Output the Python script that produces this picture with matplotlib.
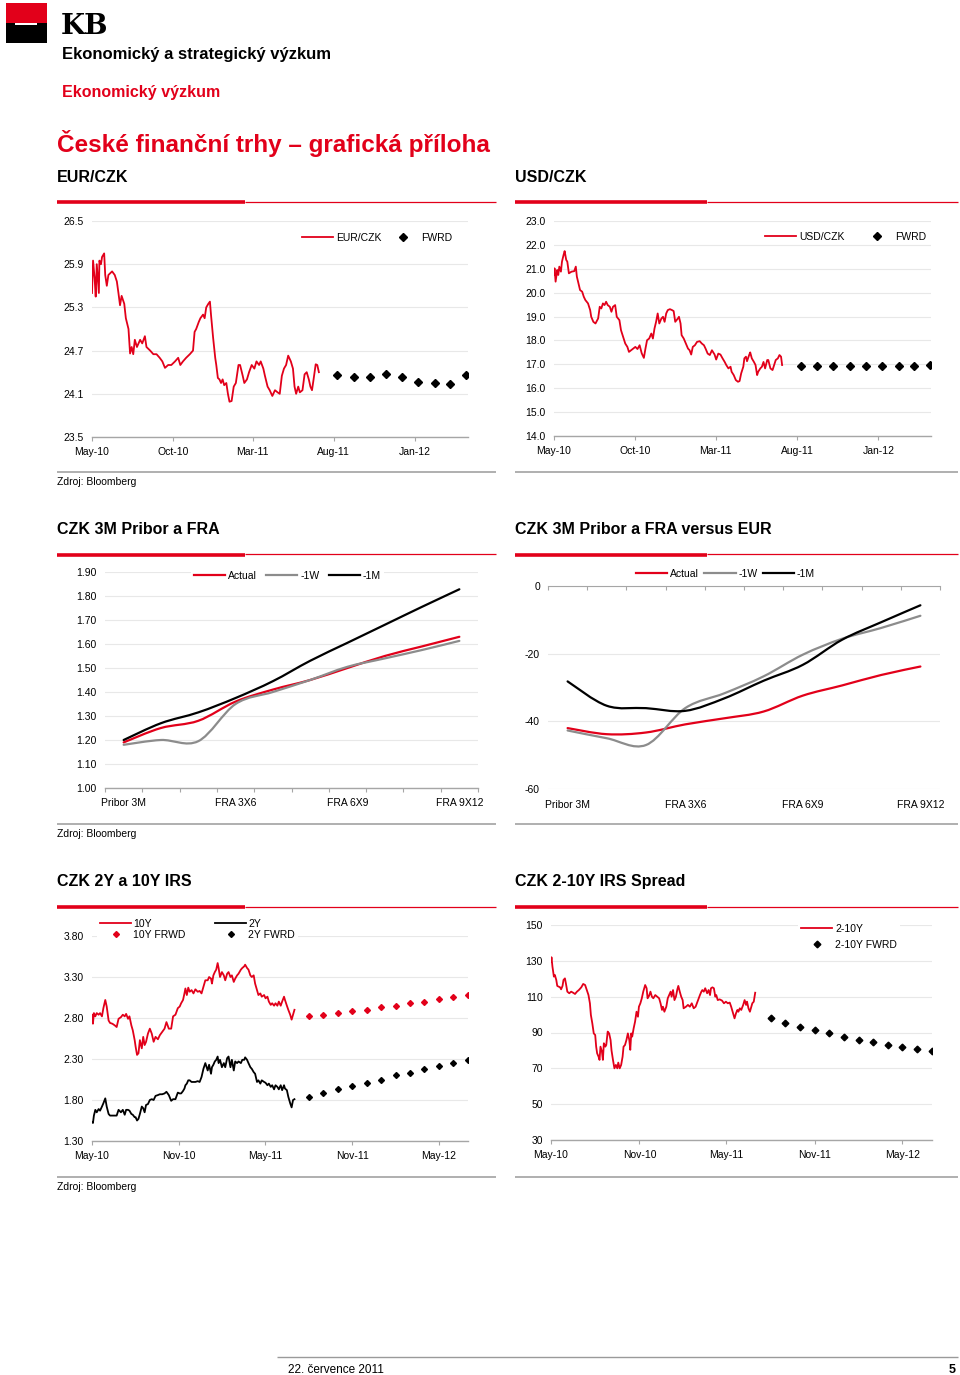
import numpy as np
import matplotlib
matplotlib.use("Agg")
import matplotlib.pyplot as plt
import matplotlib.dates as mdates
from matplotlib.path import Path
from matplotlib.patches import PathPatch, Rectangle
from matplotlib.lines import Line2D

plt.rcParams["font.family"] = ["Liberation Sans", "DejaVu Sans"]
plt.rcParams["axes.unicode_minus"] = False

RED = "#e2001a"
GREY = "#8c8c8c"
AXIS = "#a6a6a6"
GRID = "#e8e8e8"
W, H = 960, 1375
BASE = np.datetime64("2010-05-01")

# ---- EUR/CZK (days since 1 May 2010) ----
eur_day = [0, 2, 5, 7, 9, 13, 14, 17, 19, 23, 25, 28, 31, 38, 43, 47, 50, 53, 56, 61, 64, 69, 72, 75, 78,
           81, 85, 91, 95, 100, 103, 110, 116, 122, 128, 133, 138, 144, 150, 157, 163, 167, 172, 178, 185,
           191, 194, 197, 202, 205, 210, 213, 216, 220, 223, 225, 229, 233, 235, 238, 241, 244, 247, 250,
           254, 257, 260, 264, 268, 272, 277, 280, 285, 288, 293, 297, 302, 307, 311, 316, 319, 324, 327,
           332, 336, 341, 346, 351, 355, 359, 363, 367, 371, 376, 380, 383, 386, 390, 393, 398, 402, 406,
           410, 413, 416, 419, 423, 426, 429]
eur_val = [25.50, 25.95, 25.70, 25.45, 25.90, 25.50, 25.95, 25.90, 26.00, 26.05, 25.75, 25.60, 25.75, 25.80,
           25.75, 25.66, 25.50, 25.33, 25.46, 25.35, 25.15, 25.00, 24.66, 24.75, 24.65, 24.85, 24.75, 24.85,
           24.80, 24.90, 24.75, 24.70, 24.65, 24.65, 24.60, 24.55, 24.46, 24.50, 24.50, 24.55, 24.60, 24.50,
           24.55, 24.60, 24.65, 24.70, 24.96, 25.00, 25.10, 25.15, 25.20, 25.15, 25.30, 25.35, 25.38, 25.20,
           24.88, 24.60, 24.50, 24.32, 24.30, 24.25, 24.30, 24.22, 24.25, 24.10, 23.99, 24.00, 24.20, 24.25,
           24.50, 24.50, 24.35, 24.25, 24.30, 24.40, 24.50, 24.45, 24.55, 24.50, 24.55, 24.45, 24.35, 24.20,
           24.15, 24.07, 24.15, 24.12, 24.10, 24.35, 24.45, 24.50, 24.63, 24.55, 24.45, 24.20, 24.10, 24.20,
           24.12, 24.15, 24.37, 24.40, 24.30, 24.20, 24.15, 24.30, 24.51, 24.50, 24.40]
fx_fwd_dates = ["2011-08-08", "2011-09-08", "2011-10-08", "2011-11-08", "2011-12-08",
                "2012-01-08", "2012-02-08", "2012-03-08", "2012-04-08"]
eur_fwd = [24.36, 24.34, 24.33, 24.37, 24.33, 24.27, 24.25, 24.24, 24.36]

# ---- USD/CZK ----
usd_day = [0, 1, 3, 6, 8, 10, 13, 15, 18, 20, 23, 25, 28, 33, 38, 41, 43, 46, 49, 53, 56, 59, 64, 68, 70,
           74, 78, 83, 86, 89, 92, 95, 98, 101, 105, 108, 111, 115, 118, 123, 126, 130, 134, 138, 141, 145,
           149, 153, 157, 161, 165, 169, 172, 175, 179, 183, 186, 189, 192, 195, 198, 202, 205, 208, 211,
           214, 218, 222, 225, 228, 233, 235, 238, 240, 244, 248, 252, 255, 258, 261, 265, 269, 274, 278,
           282, 285, 289, 293, 297, 299, 302, 305, 309, 313, 317, 321, 324, 328, 332, 334, 338, 342, 346,
           349, 352, 356, 358, 361, 363, 367, 369, 372, 376, 379, 382, 384, 388, 391, 394, 397, 401, 403,
           407, 411, 413, 417, 421, 424, 427, 429]
usd_val = [20.74, 21.02, 20.46, 20.95, 20.74, 21.09, 20.88, 21.30, 21.58, 21.74, 21.37, 21.30, 20.81, 20.88,
           20.90, 21.09, 20.67, 20.39, 20.11, 20.04, 19.83, 19.69, 19.55, 19.27, 18.99, 18.78, 18.71, 18.92,
           19.41, 19.34, 19.55, 19.48, 19.62, 19.48, 19.41, 19.20, 19.41, 19.48, 18.99, 18.85, 18.43, 18.15,
           17.87, 17.73, 17.52, 17.59, 17.66, 17.73, 17.64, 17.80, 17.46, 17.27, 17.66, 18.01, 18.08, 18.29,
           18.08, 18.50, 18.78, 19.13, 18.71, 18.92, 18.99, 18.78, 19.13, 19.27, 19.31, 19.27, 19.23, 18.78,
           18.92, 18.99, 18.71, 18.22, 18.08, 17.87, 17.66, 17.59, 17.41, 17.73, 17.80, 17.94, 17.97, 17.87,
           17.80, 17.66, 17.45, 17.39, 17.59, 17.52, 17.41, 17.20, 17.45, 17.41, 17.25, 17.10, 16.97, 16.83,
           16.90, 16.69, 16.55, 16.34, 16.27, 16.30, 16.62, 16.90, 17.25, 17.32, 17.13, 17.39, 17.50, 17.25,
           17.10, 16.97, 16.55, 16.69, 16.83, 16.90, 17.10, 16.83, 17.18, 17.18, 16.83, 16.76, 16.90, 17.18,
           17.25, 17.39, 17.32, 16.97]
usd_fwd = [16.92, 16.92, 16.92, 16.92, 16.92, 16.93, 16.92, 16.92, 16.96]

# ---- Pribor / FRA curves ----
fra_cats = ["Pribor 3M", "FRA 1X4", "FRA 2X5", "FRA 3X6", "FRA 4X7",
            "FRA 5X8", "FRA 6X9", "FRA 7X10", "FRA 8X11", "FRA 9X12"]
czk_actual = [1.19, 1.25, 1.28, 1.36, 1.41, 1.45, 1.50, 1.55, 1.59, 1.63]
czk_1w = [1.18, 1.20, 1.195, 1.35, 1.40, 1.45, 1.505, 1.54, 1.575, 1.613]
czk_1m = [1.20, 1.27, 1.315, 1.375, 1.445, 1.53, 1.605, 1.68, 1.755, 1.828]
vs_actual = [-42.0, -43.8, -43.3, -40.9, -39.1, -37.1, -32.4, -29.4, -26.3, -23.8]
vs_1w = [-42.7, -45.0, -47.0, -36.1, -31.7, -26.7, -20.3, -15.6, -12.4, -8.8]
vs_1m = [-28.2, -35.4, -36.1, -36.9, -33.2, -28.0, -23.3, -15.9, -10.7, -5.7]

# ---- IRS 10Y / 2Y ----
irs_day = [0, 2, 4, 7, 10, 14, 17, 21, 24, 28, 31, 35, 38, 43, 48, 52, 56, 61, 65, 69, 72, 76, 79, 83, 86,
           90, 92, 95, 98, 101, 105, 108, 111, 114, 118, 122, 126, 130, 134, 139, 143, 148, 153, 157, 162,
           167, 171, 176, 181, 185, 188, 192, 195, 197, 200, 203, 206, 210, 214, 218, 223, 227, 231, 235,
           239, 244, 247, 251, 253, 256, 259, 262, 265, 267, 270, 274, 278, 281, 285, 288, 292, 295, 299,
           302, 306, 309, 314, 317, 321, 323, 327, 330, 334, 337, 341, 344, 348, 351, 355, 358, 363, 366,
           370, 373, 377, 380, 384, 387, 391, 394, 398, 401, 405, 407, 411, 414, 418, 421, 424, 427]
irs_10y = [2.84, 2.73, 2.86, 2.82, 2.86, 2.84, 2.86, 2.82, 2.92, 3.02, 2.94, 2.77, 2.74, 2.73, 2.71,
           2.69, 2.79, 2.81, 2.84, 2.82, 2.85, 2.79, 2.82, 2.71, 2.65, 2.53, 2.45, 2.35, 2.37, 2.53,
           2.43, 2.57, 2.47, 2.51, 2.61, 2.67, 2.61, 2.51, 2.57, 2.54, 2.59, 2.63, 2.67, 2.75, 2.67,
           2.67, 2.82, 2.84, 2.92, 2.94, 2.98, 3.02, 3.10, 3.16, 3.08, 3.17, 3.12, 3.14, 3.10, 3.15,
           3.12, 3.13, 3.10, 3.18, 3.26, 3.26, 3.30, 3.28, 3.22, 3.32, 3.36, 3.39, 3.47, 3.41, 3.30,
           3.36, 3.32, 3.26, 3.34, 3.36, 3.30, 3.32, 3.24, 3.28, 3.32, 3.34, 3.39, 3.41, 3.43, 3.45,
           3.41, 3.39, 3.32, 3.30, 3.32, 3.22, 3.14, 3.08, 3.10, 3.06, 3.08, 3.04, 3.06, 3.00, 2.96,
           2.98, 2.95, 2.98, 2.95, 3.00, 2.95, 3.00, 3.06, 3.02, 2.95, 2.90, 2.84, 2.78, 2.84, 2.90]
irs_2y = [1.53, 1.52, 1.61, 1.68, 1.65, 1.69, 1.67, 1.72, 1.76, 1.82, 1.72, 1.63, 1.61,
          1.61, 1.61, 1.61, 1.68, 1.65, 1.68, 1.62, 1.68, 1.68, 1.67, 1.63, 1.62, 1.59, 1.59, 1.55,
          1.57, 1.63, 1.72, 1.70, 1.65, 1.74, 1.75, 1.80, 1.81, 1.80, 1.85, 1.86, 1.87, 1.87, 1.88,
          1.90, 1.86, 1.79, 1.81, 1.81, 1.89, 1.88, 1.88, 1.91, 1.94, 1.98, 2.00, 2.04, 2.04, 2.02,
          2.02, 2.02, 2.03, 2.02, 2.08, 2.18, 2.25, 2.16, 2.23, 2.12, 2.20, 2.23, 2.27, 2.29, 2.33,
          2.25, 2.29, 2.20, 2.25, 2.20, 2.31, 2.33, 2.20, 2.29, 2.16, 2.27, 2.25, 2.27, 2.25, 2.29,
          2.29, 2.32, 2.29, 2.25, 2.20, 2.18, 2.14, 2.12, 2.02, 2.04, 2.00, 2.04, 2.02, 2.01, 1.98,
          2.00, 1.96, 1.98, 1.93, 1.98, 1.96, 1.93, 1.98, 1.92, 1.98, 1.94, 1.92, 1.84, 1.76, 1.71,
          1.80, 1.81]
irs_fwd_dates = ["2011-08-01", "2011-09-01", "2011-10-01", "2011-11-01", "2011-12-01", "2012-01-01",
                 "2012-02-01", "2012-03-01", "2012-04-01", "2012-05-01", "2012-06-01", "2012-07-01"]
irs_10y_fwd = [2.82, 2.835, 2.855, 2.88, 2.90, 2.93, 2.95, 2.98, 3.00, 3.03, 3.055, 3.08]
irs_2y_fwd = [1.84, 1.89, 1.93, 1.97, 2.01, 2.05, 2.10, 2.135, 2.175, 2.215, 2.25, 2.285]

# ---- 2-10Y spread ----
spr_day = [0, 1, 3, 6, 8, 11, 13, 16, 19, 21, 24, 26, 29, 31, 34, 38, 42, 46, 50, 54, 58, 63, 67, 71, 74,
           78, 81, 83, 86, 89, 92, 94, 96, 99, 101, 103, 106, 108, 110, 113, 115, 118, 121, 124, 126,
           129, 132, 135, 138, 140, 143, 146, 149, 151, 154, 157, 160, 163, 165, 167, 169, 172, 175, 178,
           181, 183, 186, 189, 192, 196, 199, 201, 204, 207, 210, 213, 217, 221, 225, 228, 231, 233, 236,
           240, 243, 246, 249, 251, 254, 257, 260, 263, 265, 268, 271, 274, 276, 281, 285, 289, 293, 297,
           301, 306, 310, 313, 315, 318, 321, 325, 328, 331, 333, 336, 339, 342, 344, 347, 351, 356, 360,
           364, 368, 372, 375, 379, 382, 385, 388, 390, 393, 396, 400, 403, 406, 408, 411, 414, 417, 419,
           422, 425]
spr_val = [129.5, 132.0, 126.8, 121.2, 122.1, 119.3, 116.0, 115.6, 115.2, 114.1, 116.0, 119.3, 120.2, 117.4,
           112.8, 111.9, 112.8, 112.2, 111.5, 112.8, 113.7, 115.2, 117.1, 116.5, 114.1, 110.9, 106.3, 99.8,
           95.1, 89.5, 88.6, 82.1, 78.4, 76.5, 74.7, 82.1, 79.3, 74.7, 84.0, 82.1, 83.0, 90.5, 89.5, 85.8,
           79.9, 74.7, 70.0, 71.9, 70.0, 73.2, 70.0, 71.9, 76.5, 82.1, 83.0, 85.8, 89.5, 85.8, 80.3, 89.5,
           87.7, 92.3, 96.1, 101.6, 98.8, 104.4, 106.3, 109.1, 112.8, 116.5, 114.7, 109.1, 110.4, 112.8,
           110.0, 109.1, 110.9, 110.0, 109.1, 106.3, 102.6, 104.4, 101.6, 104.4, 109.1, 110.9, 112.8, 110.0,
           113.7, 108.1, 110.0, 114.1, 116.0, 112.8, 110.0, 108.1, 103.5, 104.4, 105.4, 104.4, 106.3, 103.5,
           104.4, 108.1, 110.9, 112.8, 113.7, 112.8, 114.7, 111.9, 113.7, 110.9, 114.7, 115.2, 114.7, 110.0,
           110.9, 108.1, 108.5, 107.8, 106.3, 107.2, 106.3, 106.7, 104.4, 100.7, 97.9, 100.7, 102.6, 101.6,
           103.5, 102.6, 105.4, 108.1, 105.4, 107.2, 103.5, 101.6, 104.4, 106.3, 107.2, 112.2]
spr_fwd = [98.3, 95.3, 93.3, 91.4, 89.5, 87.5, 85.8, 84.5, 83.0, 81.9, 80.8, 79.7]


def days(d):
    return BASE + np.array(d).astype("timedelta64[D]")


def add_ax(fig, x0, y0, x1, y1):
    return fig.add_axes([x0 / W, 1 - y1 / H, (x1 - x0) / W, (y1 - y0) / H])


def ftext(fig, x, y, s, **kw):
    fig.text(x / W, 1 - y / H, s, **kw)


def hline(fig, x0, x1, y, color, lw):
    fig.add_artist(Line2D([x0 / W, x1 / W], [1 - y / H, 1 - y / H], color=color, lw=lw,
                          transform=fig.transFigure, solid_capstyle="butt"))


def style(ax):
    for s in ["top", "left", "right"]:
        ax.spines[s].set_visible(False)
    ax.spines["bottom"].set_color(AXIS)
    ax.spines["bottom"].set_linewidth(1.0)
    ax.yaxis.grid(True, color=GRID, lw=0.8)
    ax.set_axisbelow(True)
    ax.tick_params(axis="y", length=0, pad=5.8, labelsize=7.5)
    ax.tick_params(axis="x", labelsize=7.5, color=AXIS)


def date_axis(ax, ticks, fmt, right):
    ax.set_xlim(BASE, np.datetime64(right))
    ax.set_xticks([np.datetime64(t) for t in ticks])
    ax.xaxis.set_major_formatter(mdates.DateFormatter(fmt))
    ax.tick_params(axis="x", direction="out", length=3, width=0.8, pad=4)


def smooth(ax, y, color, lw=1.6):
    x = np.arange(len(y), dtype=float)
    y = np.asarray(y, dtype=float)
    n = len(y)
    verts = [(x[0], y[0])]
    codes = [Path.MOVETO]
    for i in range(n - 1):
        a = max(i - 1, 0)
        b = min(i + 2, n - 1)
        c1 = (x[i] + (x[i + 1] - x[a]) / 6, y[i] + (y[i + 1] - y[a]) / 6)
        c2 = (x[i + 1] - (x[b] - x[i]) / 6, y[i + 1] - (y[b] - y[i]) / 6)
        verts += [c1, c2, (x[i + 1], y[i + 1])]
        codes += [Path.CURVE4] * 3
    ax.add_patch(PathPatch(Path(verts, codes), fill=False, edgecolor=color, lw=lw,
                           capstyle="round", joinstyle="round"))


def cat_axis(ax, top=False):
    n = len(fra_cats)
    ax.set_xlim(-0.5, n - 0.5)
    ax.set_xticks(np.arange(-0.5, n, 1.0))
    ax.set_xticklabels([])
    ax.set_xticks([0, 3, 6, 9], minor=True)
    ax.set_xticklabels([fra_cats[i] for i in [0, 3, 6, 9]], minor=True)
    ax.tick_params(axis="x", which="minor", length=0, labelsize=7.5)
    if top:
        ax.spines["bottom"].set_visible(False)
        ax.spines["top"].set_visible(True)
        ax.spines["top"].set_color(AXIS)
        ax.tick_params(axis="x", which="major", bottom=False, top=True, direction="in",
                       length=3, width=0.8, color=AXIS)
        ax.tick_params(axis="x", which="minor", pad=8)
    else:
        ax.tick_params(axis="x", which="major", direction="out", length=3, width=0.8, color=AXIS)
        ax.tick_params(axis="x", which="minor", pad=7)


def legend(ax, fig, handles, labels, x, y, ncol, frame=False, **kw):
    opts = dict(loc="center left", bbox_to_anchor=(x / W, 1 - y / H), bbox_transform=fig.transFigure,
                ncol=ncol, fontsize=7.5, handlelength=3.0, handletextpad=0.25, columnspacing=0.8,
                borderpad=0.3 if frame else 0, borderaxespad=0, frameon=frame, fancybox=False)
    opts.update(kw)
    lg = ax.legend(handles, labels, **opts)
    if frame:
        lg.get_frame().set_facecolor("white")
        lg.get_frame().set_edgecolor("none")
        lg.get_frame().set_alpha(1)
    return lg


fig = plt.figure(figsize=(W / 100, H / 100), dpi=100)

# ---- header ----
fig.add_artist(Rectangle((6 / W, 1 - 23 / H), 41 / W, 20 / H, color=RED, transform=fig.transFigure, lw=0))
fig.add_artist(Rectangle((6 / W, 1 - 43 / H), 41 / W, 20 / H, color="black", transform=fig.transFigure, lw=0))
fig.add_artist(Rectangle((15 / W, 1 - 25 / H), 22 / W, 2 / H, color="white", transform=fig.transFigure, lw=0))
ftext(fig, 61, 34, "KB", fontsize=20, fontweight="bold", family="DejaVu Serif", va="baseline")
ftext(fig, 62, 59, "Ekonomický a strategický výzkum", fontsize=12, fontweight="bold", va="baseline")
ftext(fig, 62, 97, "Ekonomický výzkum", fontsize=11.5, fontweight="bold", color=RED, va="baseline")
ftext(fig, 57, 152, "České finanční trhy – grafická příloha", fontsize=17.5, fontweight="bold",
      color=RED, va="baseline")

# ---- section frames ----
sections = [(182, 202, 472, 485, ["EUR/CZK", "USD/CZK"]),
            (534, 555, 824, 837, ["CZK 3M Pribor a FRA", "CZK 3M Pribor a FRA versus EUR"]),
            (886, 907, 1177, 1190, ["CZK 2Y a 10Y IRS", "CZK 2-10Y IRS Spread"])]
for ty, by, gy, zy, titles in sections:
    for (x0, xm, x1), t in zip([(57, 245, 496), (515, 707, 958)], titles):
        ftext(fig, x0, ty, t, fontsize=11.5, fontweight="bold", va="baseline")
        hline(fig, x0, xm, by, RED, 2.6)
        hline(fig, xm, x1, by - 0.5, RED, 0.9)
        hline(fig, x0, x1, gy, "#9a9a9a", 1.1)
    ftext(fig, 57, zy, "Zdroj: Bloomberg", fontsize=7.5, va="baseline")

# ---- EUR/CZK ----
ax = add_ax(fig, 92, 221, 468, 437)
style(ax)
ax.plot(days(eur_day), eur_val, color=RED, lw=1.3)
ax.plot(np.array(fx_fwd_dates, dtype="datetime64[D]"), eur_fwd, ls="none", marker="D", ms=4, color="black")
ax.set_ylim(23.5, 26.5)
ax.set_yticks(np.round(np.arange(23.5, 26.51, 0.6), 1))
ax.yaxis.set_major_formatter(matplotlib.ticker.FormatStrFormatter("%.1f"))
date_axis(ax, ["2010-05-01", "2010-10-01", "2011-03-01", "2011-08-01", "2012-01-01"], "%b-%y", "2012-04-11")
legend(ax, fig, [Line2D([], [], color=RED, lw=1.3), Line2D([], [], ls="none", marker="D", ms=4, color="black")],
       ["EUR/CZK", "FWRD"], 302, 238, 2, columnspacing=0.6)

# ---- USD/CZK ----
ax = add_ax(fig, 554, 221, 931, 436)
style(ax)
ax.plot(days(usd_day), usd_val, color=RED, lw=1.3)
ax.plot(np.array(fx_fwd_dates, dtype="datetime64[D]"), usd_fwd, ls="none", marker="D", ms=4, color="black")
ax.set_ylim(14, 23)
ax.set_yticks(np.arange(14, 23.1, 1))
ax.yaxis.set_major_formatter(matplotlib.ticker.FormatStrFormatter("%.1f"))
date_axis(ax, ["2010-05-01", "2010-10-01", "2011-03-01", "2011-08-01", "2012-01-01"], "%b-%y", "2012-04-09")
legend(ax, fig, [Line2D([], [], color=RED, lw=1.3), Line2D([], [], ls="none", marker="D", ms=4, color="black")],
       ["USD/CZK", "FWRD"], 765, 237, 2, columnspacing=1.6)

# ---- CZK 3M Pribor a FRA ----
ax = add_ax(fig, 105, 572, 478, 788)
style(ax)
smooth(ax, czk_actual, RED)
smooth(ax, czk_1w, GREY)
smooth(ax, czk_1m, "black")
ax.set_ylim(1.0, 1.9)
ax.set_yticks(np.round(np.arange(1.0, 1.91, 0.1), 2))
ax.yaxis.set_major_formatter(matplotlib.ticker.FormatStrFormatter("%.2f"))
cat_axis(ax)
legend(ax, fig, [Line2D([], [], color=c, lw=1.6) for c in (RED, GREY, "black")],
       ["Actual", "-1W", "-1M"], 191, 576, 3, frame=True, columnspacing=0.9)

# ---- CZK 3M Pribor a FRA versus EUR ----
ax = add_ax(fig, 548, 586, 940, 789)
style(ax)
smooth(ax, vs_actual, RED)
smooth(ax, vs_1w, GREY)
smooth(ax, vs_1m, "black")
ax.set_ylim(-60, 0)
ax.set_yticks([-60, -40, -20, 0])
cat_axis(ax, top=True)
legend(ax, fig, [Line2D([], [], color=c, lw=1.6) for c in (RED, GREY, "black")],
       ["Actual", "-1W", "-1M"], 636, 574, 3, columnspacing=0.55)

# ---- CZK 2Y a 10Y IRS ----
ax = add_ax(fig, 92, 936, 468, 1141)
style(ax)
ax.plot(days(irs_day), irs_10y, color=RED, lw=1.3)
ax.plot(days(irs_day), irs_2y, color="black", lw=1.3)
fwd_x = np.array(irs_fwd_dates, dtype="datetime64[D]")
ax.plot(fwd_x, irs_10y_fwd, ls="none", marker="D", ms=3.0, color=RED)
ax.plot(fwd_x, irs_2y_fwd, ls="none", marker="D", ms=3.0, color="black")
ax.set_ylim(1.3, 3.8)
ax.set_yticks(np.round(np.arange(1.3, 3.81, 0.5), 2))
ax.yaxis.set_major_formatter(matplotlib.ticker.FormatStrFormatter("%.2f"))
date_axis(ax, ["2010-05-01", "2010-11-01", "2011-05-01", "2011-11-01", "2012-05-01"], "%b-%y", "2012-07-02")
legend(ax, fig, [Line2D([], [], color=RED, lw=1.3), Line2D([], [], ls="none", marker="D", ms=3.0, color=RED),
                 Line2D([], [], color="black", lw=1.3), Line2D([], [], ls="none", marker="D", ms=3.0, color="black")],
       ["10Y", "10Y FRWD", "2Y", "2Y FWRD"], 97, 929.5, 2, frame=True, labelspacing=0.1,
       columnspacing=2.8, handletextpad=0.2)

# ---- CZK 2-10Y IRS Spread ----
ax = add_ax(fig, 551, 925, 932, 1140)
style(ax)
ax.plot(days(spr_day), spr_val, color=RED, lw=1.3)
ax.plot(fwd_x, spr_fwd, ls="none", marker="D", ms=3.4, color="black")
ax.set_ylim(30, 150)
ax.set_yticks(np.arange(30, 151, 20))
date_axis(ax, ["2010-05-01", "2010-11-01", "2011-05-01", "2011-11-01", "2012-05-01"], "%b-%y", "2012-07-02")
legend(ax, fig, [Line2D([], [], color=RED, lw=1.3), Line2D([], [], ls="none", marker="D", ms=3.4, color="black")],
       ["2-10Y", "2-10Y FWRD"], 798, 937, 1, frame=True, labelspacing=0.55, handletextpad=0.25)

# ---- footer ----
hline(fig, 277, 958, 1357, "#9a9a9a", 1.0)
ftext(fig, 288, 1373, "22. července 2011", fontsize=8.5, va="baseline")
ftext(fig, 956, 1373, "5", fontsize=9, fontweight="bold", va="baseline", ha="right")

fig.savefig("out.png", dpi=100)
